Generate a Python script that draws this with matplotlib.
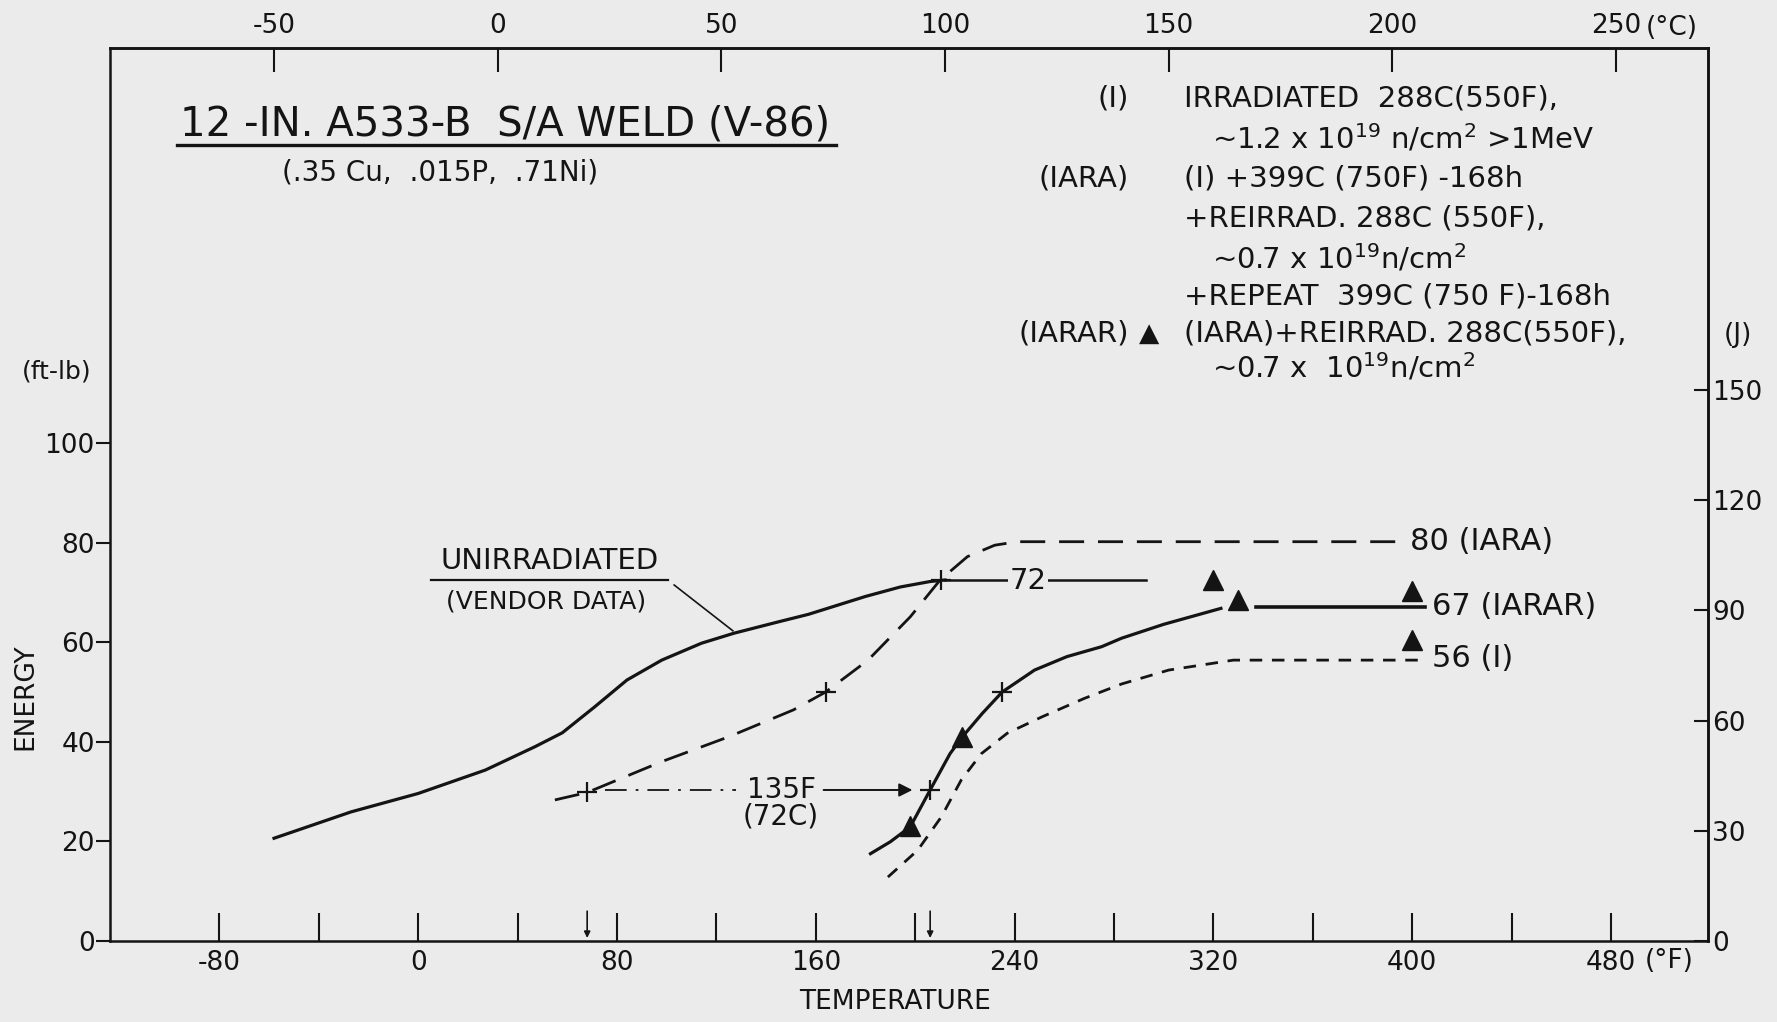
import matplotlib.pyplot as plt
import numpy as np

# temperature in deg F, energy in ft-lb
unirr_temp = [-58, -27, 0, 27, 47, 58, 71, 84, 98, 114, 127, 145, 157, 180, 194, 206, 212]
unirr_energy = [20.6, 25.9, 29.6, 34.3, 39, 41.8, 47, 52.4, 56.4, 59.8, 61.8, 64.1, 65.6, 69.2, 71.1, 72.2, 72.5]
unirr_shelf_temp = [212, 293]
unirr_shelf = [72.5, 72.5]

iara_temp = [55, 68, 98, 125, 151, 164, 181, 198, 210, 221, 232, 241, 396]
iara_energy = [28.3, 29.8, 36, 41, 46.4, 50, 56.4, 65.1, 72.5, 77.2, 79.5, 80.2, 80.2]

iarar_temp = [182, 190, 198, 206, 214, 219, 227, 235, 248, 261, 275, 283, 300, 323]
iarar_energy = [17.5, 19.9, 22.9, 30.3, 37.6, 41, 45.7, 50, 54.4, 57.1, 59.1, 60.8, 63.6, 66.8]
iarar_shelf_temp = [337, 405]
iarar_shelf = [67.1, 67.1]

irr_temp = [189, 201, 210.5, 218.5, 226.6, 237, 251, 268, 283, 302, 328, 405]
irr_energy = [12.8, 18.2, 24.9, 32.3, 37.6, 41.7, 45, 48.7, 51.6, 54.4, 56.4, 56.4]

tri_temp = [198, 219, 320, 330, 400, 400]
tri_energy = [23, 41, 72.5, 68.5, 70.3, 60.4]

cross_temp = [68, 164, 206, 235, 210.5]
cross_energy = [29.8, 50, 30.3, 50, 72.5]

shift_from, shift_to, shift_level = 68, 206, 30.3

f_ticks = list(range(-80, 481, 40))
f_labels = [str(t) if t % 80 == 0 else '' for t in f_ticks]
c_ticks = [-50, 0, 50, 100, 150, 200, 250]
e_ticks = [0, 20, 40, 60, 80, 100]
j_ticks = [0, 30, 60, 90, 120, 150]

ink = '#141414'
paper = '#ebebeb'
plt.rcParams['font.family'] = ['DejaVu Sans']
plt.rcParams['axes.unicode_minus'] = False

fig = plt.figure(figsize=(17.77, 10.22), dpi=100, facecolor=paper)
ax = fig.add_axes([0.0619, 0.0795, 0.8993, 0.8739], facecolor=paper)
ax.set_xlim(-124, 519)
ax.set_ylim(0, 179.5)

for s in ax.spines.values():
    s.set_linewidth(1.8)
    s.set_color(ink)

ax.plot(unirr_temp, unirr_energy, color=ink, lw=2.3)
ax.plot(unirr_shelf_temp, unirr_shelf, color=ink, lw=1.8)
ax.plot(iara_temp, iara_energy, color=ink, lw=2.0, dashes=(9, 5))
ax.plot(iarar_temp, iarar_energy, color=ink, lw=2.3)
ax.plot(iarar_shelf_temp, iarar_shelf, color=ink, lw=2.6)
ax.plot(irr_temp, irr_energy, color=ink, lw=2.0, dashes=(4.5, 3.5))
ax.plot(tri_temp, tri_energy, ls='none', marker='^', ms=15, color=ink)
ax.plot(cross_temp, cross_energy, ls='none', marker='+', ms=14, mew=1.6, color=ink)

# 135F shift indicator
ax.plot([75, 128], [shift_level, shift_level], color=ink, lw=1.3, dashes=(12, 5, 1.5, 5))
ax.annotate('', xy=(shift_to - 6, shift_level), xytext=(162, shift_level),
            arrowprops=dict(arrowstyle='-|>', color=ink, lw=1.4, mutation_scale=20))
ax.text(146, shift_level, '135F', fontsize=20, ha='center', va='center', color=ink)
ax.text(146, 25, '(72C)', fontsize=20, ha='center', va='center', color=ink)
for t in (shift_from, shift_to):
    ax.annotate('', xy=(t, 0), xytext=(t, 6.5),
                arrowprops=dict(arrowstyle='-|>', color=ink, lw=1.2, mutation_scale=9))

# curve labels
ax.text(245.3, 72.3, '72', fontsize=21, ha='center', va='center', color=ink,
        bbox=dict(facecolor=paper, edgecolor='none', pad=1))
ax.text(399, 80.2, '80 (IARA)', fontsize=22, ha='left', va='center', color=ink)
ax.text(408, 67.1, '67 (IARAR)', fontsize=22, ha='left', va='center', color=ink)
ax.text(408, 56.8, '56 (I)', fontsize=22, ha='left', va='center', color=ink)

ax.text(53, 76.3, 'UNIRRADIATED', fontsize=21, ha='center', va='center', color=ink)
ax.plot([5, 100.5], [72.6, 72.6], color=ink, lw=1.6)
ax.text(51.5, 68.1, '(VENDOR DATA)', fontsize=18, ha='center', va='center', color=ink)
ax.plot([103, 126.6], [71.5, 62.3], color=ink, lw=1.2)

# title
ax.text(-95.8, 164, '12 -IN. A533-B  S/A WELD (V-86)', fontsize=29, ha='left', va='center', color=ink)
ax.plot([-97.2, 168], [159.9, 159.9], color=ink, lw=2.4)
ax.text(-54.7, 154.4, '(.35 Cu,  .015P,  .71Ni)', fontsize=20, ha='left', va='center', color=ink)

# condition key
lx, tx, ix = 286, 308, 319.3
fs = 21
ax.text(lx, 169.3, '(I)', fontsize=fs, ha='right', va='center', color=ink)
ax.text(tx, 169.3, 'IRRADIATED  288C(550F),', fontsize=fs, ha='left', va='center', color=ink)
ax.text(ix, 161.3, r'~1.2 x 10$^{19}$ n/cm$^{2}$ >1MeV', fontsize=fs, ha='left', va='center', color=ink)
ax.text(lx, 153.1, '(IARA)', fontsize=fs, ha='right', va='center', color=ink)
ax.text(tx, 153.1, '(I) +399C (750F) -168h', fontsize=fs, ha='left', va='center', color=ink)
ax.text(tx, 145.1, '+REIRRAD. 288C (550F),', fontsize=fs, ha='left', va='center', color=ink)
ax.text(ix, 137.1, r'~0.7 x 10$^{19}$n/cm$^{2}$', fontsize=fs, ha='left', va='center', color=ink)
ax.text(tx, 129.4, '+REPEAT  399C (750 F)-168h', fontsize=fs, ha='left', va='center', color=ink)
ax.text(lx, 122.0, '(IARAR)', fontsize=fs, ha='right', va='center', color=ink)
ax.text(294, 122.0, '\u25B2', fontsize=19, ha='center', va='center', color=ink)
ax.text(tx, 122.0, '(IARA)+REIRRAD. 288C(550F),', fontsize=fs, ha='left', va='center', color=ink)
ax.text(ix, 115.3, r'~0.7 x  10$^{19}$n/cm$^{2}$', fontsize=fs, ha='left', va='center', color=ink)

# axes and ticks
ax.set_xticks(f_ticks)
ax.set_xticklabels(f_labels)
ax.tick_params(axis='x', direction='in', length=20, width=1.5, pad=7, labelsize=19, colors=ink)
ax.set_yticks(e_ticks)
ax.tick_params(axis='y', direction='out', length=10, width=1.5, pad=1, labelsize=19, colors=ink)

top = ax.secondary_xaxis('top', functions=(lambda f: (f - 32) / 1.8, lambda c: c * 1.8 + 32))
top.set_xticks(c_ticks)
top.tick_params(direction='in', length=17, width=1.5, pad=6, labelsize=19, colors=ink)
top.spines['top'].set_linewidth(1.8)

right = ax.secondary_yaxis('right', functions=(lambda e: e * 1.3558, lambda j: j / 1.3558))
right.set_yticks(j_ticks)
right.tick_params(direction='in', length=10, width=1.5, pad=3, labelsize=19, colors=ink)
right.spines['right'].set_linewidth(1.8)

ax.text(493.5, -4.1, '(\u00B0F)', fontsize=19, ha='left', va='center', color=ink, clip_on=False)
ax.text(494, 183.4, '(\u00B0C)', fontsize=19, ha='left', va='center', color=ink, clip_on=False)

fig.text(25 / 1777, 1 - 697 / 1022, 'ENERGY', rotation=90, fontsize=19, ha='center', va='center', color=ink)
fig.text(895 / 1777, 1 - 1002 / 1022, 'TEMPERATURE', fontsize=19, ha='center', va='center', color=ink)
fig.text(57 / 1777, 1 - 372 / 1022, '(ft-lb)', fontsize=18, ha='center', va='center', color=ink)
fig.text(1738 / 1777, 1 - 335 / 1022, '(J)', fontsize=19, ha='center', va='center', color=ink)

fig.savefig('out.png', dpi=100, facecolor=paper)
